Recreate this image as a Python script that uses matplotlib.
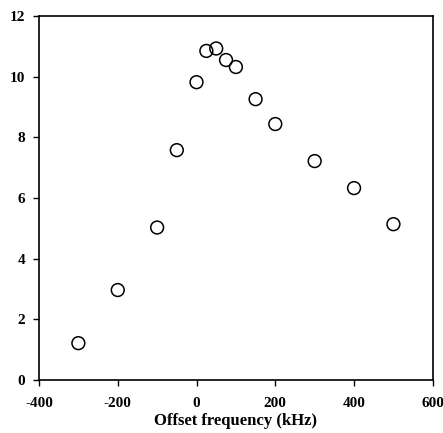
import matplotlib
matplotlib.use('Agg')
import matplotlib.pyplot as plt

# offset frequency (kHz) and measured value
offset = [-300, -200, -100, -50, 0, 25, 50, 75, 100, 150, 200, 300, 400, 500]
value = [1.22, 2.97, 5.03, 7.58, 9.82, 10.85, 10.93, 10.55, 10.32, 9.26, 8.44, 7.22, 6.33, 5.14]

plt.rcParams['font.family'] = ['Liberation Serif', 'DejaVu Serif']
plt.rcParams['axes.unicode_minus'] = False

fig = plt.figure(figsize=(4.43, 4.33), dpi=100)
ax = fig.add_axes([0.088, 0.122, 0.889, 0.841])

ax.scatter(offset, value, s=85, facecolors='none', edgecolors='black', linewidths=1.1, zorder=3)

ax.set_xlim(-400, 600)
ax.set_ylim(0, 12)
ax.set_xticks(range(-400, 601, 200))
ax.set_yticks(range(0, 13, 2))
ax.tick_params(direction='out', length=4, width=1, labelsize=11)
ax.tick_params(axis='x', pad=8)
ax.tick_params(axis='y', pad=6)
for lbl in ax.get_xticklabels() + ax.get_yticklabels():
    lbl.set_fontweight('bold')
for sp in ax.spines.values():
    sp.set_linewidth(1.2)

ax.set_xlabel('Offset frequency (kHz)', fontsize=12, fontweight='bold', labelpad=2)

plt.savefig('out.png', dpi=100)
